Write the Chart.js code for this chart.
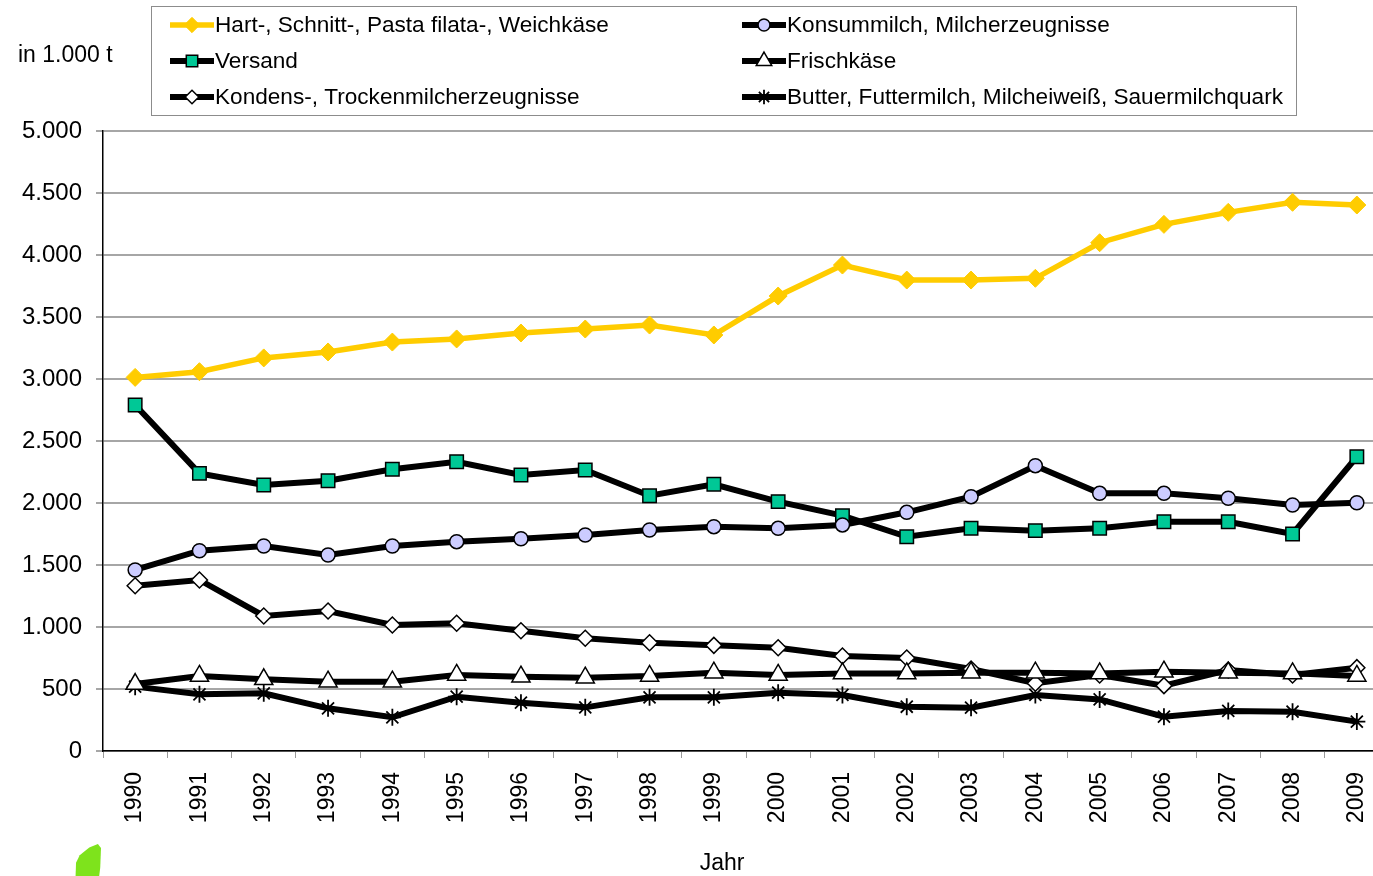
<!DOCTYPE html>
<html lang="de">
<head>
<meta charset="utf-8">
<title>Milchverarbeitung 1990–2009</title>
<script src="https://cdn.jsdelivr.net/npm/chart.js@4.4.1/dist/chart.umd.min.js"></script>
<style>
    html, body { margin: 0; padding: 0; background: #fff; overflow: hidden; }
    #wrap { position: absolute; left: 0; top: 0; width: 1401px; height: 876px; }
    #leaf {
        position: absolute; left: 75px; top: 844px; width: 26px; height: 34px;
        background: #7ee31c;
        clip-path: polygon(2% 100%, 4% 55%, 18% 33%, 55% 10%, 88% 0, 100% 12%, 97% 70%, 92% 100%);
    }
</style>
</head>
<body>
<div id="wrap"><canvas id="milkChart" width="1401" height="876"></canvas></div>
<div id="leaf"></div>
<script>
// Jahre und Mengen (in 1.000 t)
const years = ['1990', '1991', '1992', '1993', '1994', '1995', '1996', '1997', '1998', '1999',
               '2000', '2001', '2002', '2003', '2004', '2005', '2006', '2007', '2008', '2009'];

const hartKaese   = [3013, 3059, 3170, 3218, 3298, 3323, 3371, 3403, 3435, 3355,
                     3669, 3919, 3798, 3798, 3812, 4099, 4247, 4344, 4425, 4403];
const konsummilch = [1460, 1615, 1653, 1581, 1653, 1688, 1712, 1742, 1782, 1809,
                     1796, 1823, 1925, 2051, 2301, 2078, 2078, 2038, 1984, 2002];
const versand     = [2790, 2239, 2145, 2180, 2272, 2333, 2226, 2266, 2059, 2151,
                     2011, 1898, 1728, 1796, 1777, 1796, 1849, 1849, 1750, 2373];
const frischkaese = [540, 605, 578, 559, 559, 613, 599, 591, 605, 632,
                     613, 626, 626, 632, 632, 626, 640, 632, 626, 605];
const kondens     = [1333, 1379, 1089, 1129, 1016, 1030, 970, 909, 873, 852,
                     833, 766, 750, 661, 546, 613, 527, 653, 613, 672];
const butter      = [519, 457, 465, 344, 272, 438, 390, 352, 433, 433,
                     470, 452, 357, 349, 452, 416, 277, 323, 317, 237];

const yMax = 5000;
const yStep = 500;

const FONT = "'Liberation Sans', Arial, sans-serif";
Chart.defaults.font.family = FONT;
Chart.defaults.font.size = 23;
Chart.defaults.color = '#000';

// 1.000er-Trennung mit Punkt
const fmt = v => String(v).replace(/\B(?=(\d{3})+(?!\d))/g, '.');

const series = (label, data, style) => Object.assign({
    label,
    data,
    borderColor: '#000',
    borderWidth: 6,
    pointBorderColor: '#000',
    pointBorderWidth: 1.5,
    pointHoverRadius: 0,
    tension: 0
}, style);

// Legende im Rahmen, zwei Spalten, plus Achsbeschriftungen
const boxLegend = {
    id: 'boxLegend',
    afterDraw(chart) {
        const ctx = chart.ctx;
        ctx.save();
        ctx.strokeStyle = '#8c8c8c';
        ctx.lineWidth = 1;
        ctx.strokeRect(151.5, 6.5, 1145, 109);

        ctx.textBaseline = 'middle';
        ctx.fillStyle = '#000';
        ctx.font = '23px ' + FONT;
        ctx.textAlign = 'left';
        ctx.fillText('in 1.000 t', 18, 56);
        ctx.textAlign = 'center';
        ctx.fillText('Jahr', 722, 864);
        ctx.textAlign = 'left';

        ctx.font = '22.6px ' + FONT;
        chart.data.datasets.forEach((ds, i) => {
            const x = i % 2 === 0 ? 170 : 742;
            const y = 25 + Math.floor(i / 2) * 36;
            ctx.strokeStyle = ds.borderColor;
            ctx.lineWidth = ds.borderWidth;
            ctx.beginPath();
            ctx.moveTo(x, y);
            ctx.lineTo(x + 44, y);
            ctx.stroke();

            ctx.fillStyle = ds.pointBackgroundColor;
            ctx.strokeStyle = ds.pointBorderColor;
            ctx.lineWidth = ds.pointBorderWidth;
            Chart.helpers.drawPoint(ctx, {
                pointStyle: ds.pointStyle,
                radius: ds.pointRadius * 0.85,
                rotation: 0,
                borderWidth: ds.pointBorderWidth
            }, x + 22, y);

            ctx.fillStyle = '#000';
            ctx.fillText(ds.label, x + 45, y + 1);
        });
        ctx.restore();
    }
};

new Chart(document.getElementById('milkChart'), {
    type: 'line',
    data: {
        labels: years,
        datasets: [
            series('Hart-, Schnitt-, Pasta filata-, Weichkäse', hartKaese, {
                borderColor: '#ffcc00', borderWidth: 5.5,
                pointStyle: 'rectRot', pointRadius: 9,
                pointBackgroundColor: '#ffcc00', pointBorderColor: '#ffcc00', pointBorderWidth: 1
            }),
            series('Konsummilch, Milcherzeugnisse', konsummilch, {
                pointStyle: 'circle', pointRadius: 7, pointBackgroundColor: '#ccccff'
            }),
            series('Versand', versand, {
                pointStyle: 'rect', pointRadius: 9.5, pointBackgroundColor: '#00c896'
            }),
            series('Frischkäse', frischkaese, {
                pointStyle: 'triangle', pointRadius: 10.5, pointBackgroundColor: '#fff'
            }),
            series('Kondens-, Trockenmilcherzeugnisse', kondens, {
                pointStyle: 'rectRot', pointRadius: 8, pointBackgroundColor: '#fff'
            }),
            series('Butter, Futtermilch, Milcheiweiß, Sauermilchquark', butter, {
                pointStyle: 'star', pointRadius: 8.5, pointBorderWidth: 1.8,
                pointBackgroundColor: '#000'
            })
        ]
    },
    options: {
        responsive: false,
        animation: false,
        events: [],
        layout: { padding: { top: 131, left: 0, right: 1, bottom: 0 } },
        plugins: {
            legend: { display: false },
            tooltip: { enabled: false }
        },
        scales: {
            x: {
                offset: true,
                grid: {
                    offset: true,
                    drawOnChartArea: false,
                    drawTicks: true,
                    tickLength: 7,
                    color: '#999'
                },
                border: { color: '#000', width: 1.5 },
                ticks: { minRotation: 90, maxRotation: 90, padding: 14, autoSkip: false },
                afterFit(scale) { scale.height = 125; }
            },
            y: {
                min: 0,
                max: yMax,
                ticks: { stepSize: yStep, padding: 14, font: { size: 24 }, callback: v => fmt(v) },
                grid: { color: '#a6a6a6', lineWidth: 2, tickLength: 7 },
                border: { color: '#000', width: 1.5 },
                afterFit(scale) { scale.width = 103; }
            }
        }
    },
    plugins: [boxLegend]
});
</script>
</body>
</html>
